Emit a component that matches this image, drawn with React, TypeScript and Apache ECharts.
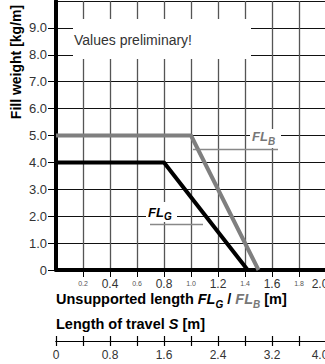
import React, { useEffect, useRef } from 'react';
import * as echarts from 'echarts';

// FL_B (gray) and FL_G (black) curves: unsupported length [m] vs fill weight [kg/m]
const flbLength = [0, 1.0, 1.5];
const flbWeight = [5.0, 5.0, 0];
const flgLength = [0, 0.8, 1.42];
const flgWeight = [4.0, 4.0, 0];

// axes
const upperMax = 2.0;
const upperStep = 0.2;
const bigUpperLabels = ['0.4', '0.8', '1.2', '1.6', '2.0'];
const weightMax = 10;
const travelMax = 4.0;
const travelStep = 0.4;
const travelLabels = ['0', '0.8', '1.6', '2.4', '3.2', '4.0'];

const FONT = 'Liberation Sans, Arial, sans-serif';

export default function App() {
  const ref = useRef<HTMLDivElement>(null);
  useEffect(() => {
    const chart = echarts.init(ref.current!, null, { renderer: 'svg' });
    const toPairs = (xs: number[], ys: number[]) => xs.map((x, i) => [x, ys[i]]);
    chart.setOption({
      animation: false,
      backgroundColor: '#fff',
      textStyle: { fontFamily: FONT },
      grid: [
        { left: 56, top: 1, width: 270, height: 269, outerBoundsMode: 'none', containLabel: false },
        { left: 56, top: 341, width: 270, height: 0, outerBoundsMode: 'none', containLabel: false },
      ],
      xAxis: [
        {
          gridIndex: 0,
          type: 'value',
          min: 0,
          max: upperMax,
          interval: upperStep,
          axisLine: { show: true, lineStyle: { color: '#000', width: 4 } },
          axisTick: { show: true, length: 7, lineStyle: { color: '#000', width: 1 } },
          splitLine: { show: true, lineStyle: { color: '#555', width: 1.3 } },
          axisLabel: {
            margin: 8,
            showMinLabel: false,
            hideOverlap: false,
            formatter: (v: number) => {
              const s = v.toFixed(1);
              if (Math.round(v * 10) === 0) return '';
              if (v >= upperMax - 1e-9) return `{edge|${s}}`;
              return bigUpperLabels.includes(s) ? `{big|${s}}` : `{sm|${s}}`;
            },
            rich: {
              big: { fontSize: 12, color: '#333', fontFamily: FONT, verticalAlign: 'bottom', lineHeight: 12 },
              edge: { fontSize: 12, color: '#333', fontFamily: FONT, verticalAlign: 'bottom', lineHeight: 12, padding: [0, 12, 0, 0] },
              sm: { fontSize: 7, color: '#555', fontFamily: FONT, verticalAlign: 'bottom', lineHeight: 9 },
            },
          },
        },
        {
          gridIndex: 1,
          type: 'value',
          position: 'top',
          min: 0,
          max: travelMax,
          interval: travelStep,
          axisLine: { show: true, lineStyle: { color: '#000', width: 1.2 } },
          axisTick: { show: true, length: 5, lineStyle: { color: '#000', width: 1.2 } },
          splitLine: { show: false },
          axisLabel: { show: false },
        },
        {
          gridIndex: 1,
          type: 'value',
          position: 'bottom',
          min: 0,
          max: travelMax,
          interval: travelStep,
          axisLine: { show: true, lineStyle: { color: '#000', width: 1.2 } },
          axisTick: { show: true, length: 5, lineStyle: { color: '#000', width: 1.2 } },
          splitLine: { show: false },
          axisLabel: {
            margin: 8,
            hideOverlap: false,
            formatter: (v: number) => {
              const s = Math.round(v * 10) === 0 ? '0' : v.toFixed(1);
              if (!travelLabels.includes(s)) return '';
              return v >= travelMax - 1e-9 ? `{edge|${s}}` : `{n|${s}}`;
            },
            rich: {
              n: { fontSize: 12, color: '#333', fontFamily: FONT },
              edge: { fontSize: 12, color: '#333', fontFamily: FONT, padding: [0, 12, 0, 0] },
            },
          },
        },
      ],
      yAxis: [
        {
          gridIndex: 0,
          type: 'value',
          min: 0,
          max: weightMax,
          interval: 1,
          axisLine: { show: true, lineStyle: { color: '#000', width: 4 } },
          axisTick: { show: true, length: 8, lineStyle: { color: '#000', width: 1 } },
          splitLine: { show: true, lineStyle: { color: '#111', width: 1.2 } },
          axisLabel: {
            margin: 9,
            fontSize: 13,
            color: '#333',
            showMaxLabel: false,
            formatter: (v: number) => (v === 0 ? '0' : v === weightMax ? '' : v.toFixed(1)),
          },
        },
        { gridIndex: 1, type: 'value', show: false },
      ],
      series: [
        {
          type: 'line',
          xAxisIndex: 0,
          yAxisIndex: 0,
          data: toPairs(flbLength, flbWeight),
          showSymbol: false,
          lineStyle: { color: '#7f7f7f', width: 4 },
          z: 3,
        },
        {
          type: 'line',
          xAxisIndex: 0,
          yAxisIndex: 0,
          data: toPairs(flgLength, flgWeight),
          showSymbol: false,
          lineStyle: { color: '#000', width: 4 },
          z: 4,
        },
      ],
      graphic: [
        // note box
        { type: 'rect', z: 10, shape: { x: 73, y: 19, width: 178, height: 40 }, style: { fill: '#fff' } },
        {
          type: 'text', z: 11, x: 74, y: 40,
          style: { text: 'Values preliminary!', font: `14px ${FONT}`, fill: '#333', verticalAlign: 'middle', textVerticalAlign: 'middle' },
        },
        // FL_B label
        { type: 'rect', z: 10, shape: { x: 250, y: 129, width: 31, height: 19 }, style: { fill: '#fff' } },
        {
          type: 'text', z: 11, x: 252, y: 136,
          style: { text: 'FL', font: `italic bold 13px ${FONT}`, fill: '#777', verticalAlign: 'middle', textVerticalAlign: 'middle' },
        },
        {
          type: 'text', z: 11, x: 268, y: 141,
          style: { text: 'B', font: `italic bold 10px ${FONT}`, fill: '#777', verticalAlign: 'middle', textVerticalAlign: 'middle' },
        },
        { type: 'line', z: 10, shape: { x1: 193, y1: 149.5, x2: 278, y2: 149.5 }, style: { stroke: '#888', lineWidth: 1.5 } },
        // FL_G label
        { type: 'rect', z: 10, shape: { x: 146, y: 202, width: 31, height: 20 }, style: { fill: '#fff' } },
        {
          type: 'text', z: 11, x: 148, y: 212,
          style: { text: 'FL', font: `italic bold 13px ${FONT}`, fill: '#000', verticalAlign: 'middle', textVerticalAlign: 'middle' },
        },
        {
          type: 'text', z: 11, x: 164, y: 216,
          style: { text: 'G', font: `italic bold 10px ${FONT}`, fill: '#000', verticalAlign: 'middle', textVerticalAlign: 'middle' },
        },
        { type: 'line', z: 10, shape: { x1: 150, y1: 224.5, x2: 203, y2: 224.5 }, style: { stroke: '#888', lineWidth: 1.5 } },
        // y axis title
        {
          type: 'text', z: 11, x: 16, y: 62, rotation: Math.PI / 2,
          style: {
            text: 'Fill weight [kg/m]', font: `bold 14px ${FONT}`, fill: '#000',
            align: 'center', textAlign: 'center', verticalAlign: 'middle', textVerticalAlign: 'middle',
          },
        },
        // x axis titles
        {
          type: 'text', z: 11, x: 56, y: 299,
          style: {
            text: '{b|Unsupported length }{i|FL}{s|G}{b| / }{ig|FL}{sg|B}{b| [m]}',
            verticalAlign: 'middle', textVerticalAlign: 'middle',
            rich: {
              b: { font: `bold 14.5px ${FONT}`, fill: '#000', lineHeight: 20 },
              i: { font: `italic bold 14.5px ${FONT}`, fill: '#000', lineHeight: 20 },
              s: { font: `italic bold 10px ${FONT}`, fill: '#000', lineHeight: 12, verticalAlign: 'bottom' },
              ig: { font: `italic bold 14.5px ${FONT}`, fill: '#777', lineHeight: 20 },
              sg: { font: `italic bold 10px ${FONT}`, fill: '#777', lineHeight: 12, verticalAlign: 'bottom' },
            },
          },
        },
        {
          type: 'text', z: 11, x: 56, y: 324,
          style: {
            text: '{b|Length of travel }{i|S}{b| [m]}',
            verticalAlign: 'middle', textVerticalAlign: 'middle',
            rich: {
              b: { font: `bold 14.5px ${FONT}`, fill: '#000', lineHeight: 20 },
              i: { font: `italic bold 14.5px ${FONT}`, fill: '#000', lineHeight: 20 },
            },
          },
        },
      ],
    });
    return () => chart.dispose();
  }, []);
  return (
    <div
      ref={ref}
      style={{ position: 'fixed', left: 0, top: 0, width: 325, height: 364, background: '#fff' }}
    />
  );
}
